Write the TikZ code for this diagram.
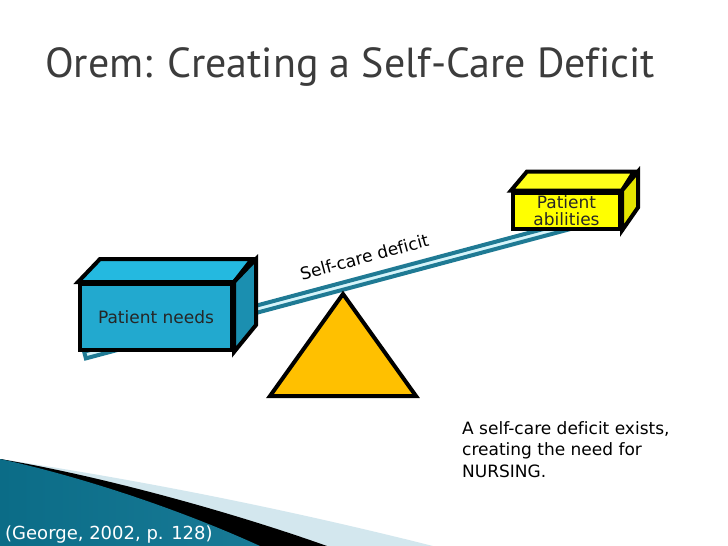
\documentclass[tikz,border=0pt]{standalone}
\usepackage{fontspec}
\setmainfont[Ligatures=NoCommon]{DejaVu Sans}
\newfontfamily\titlefont[Ligatures=NoCommon]{PT Sans}
\usetikzlibrary{calc}

\definecolor{beamdark}{HTML}{1F7A94}
\definecolor{beamlight}{HTML}{D6F4FA}
\definecolor{needsfront}{HTML}{22A9CF}
\definecolor{needstop}{HTML}{24B9E0}
\definecolor{needsside}{HTML}{1B8FB0}
\definecolor{abilfront}{HTML}{FFFF00}
\definecolor{abiltop}{HTML}{FFFF1A}
\definecolor{abilside}{HTML}{E3E300}
\definecolor{fulcrum}{HTML}{FFC000}
\definecolor{titlegray}{HTML}{3C3C3C}
\definecolor{swoosh}{HTML}{D3E7EE}
\definecolor{tealdark}{HTML}{0B6C87}
\definecolor{teallight}{HTML}{4DB5D4}

\begin{document}
\begin{tikzpicture}[x=1pt, y=-1pt,
  boxline/.style={draw=black, line width=4pt, line join=miter},
  front/.style={boxline, inner sep=0pt, text=black!85, font=\fontsize{17}{17}\selectfont},
  bodytext/.style={inner sep=0pt, font=\fontsize{17}{21.5}\selectfont}]

  \useasboundingbox[fill=white] (0,0) rectangle (728,546);

  % Title
  \node (title) [anchor=base west, inner sep=0pt, text=titlegray,
    font=\titlefont\fontsize{42}{42}\selectfont] at (45,77) {Orem: Creating a Self-Care Deficit};

  % Swoosh, bottom left
  \fill[swoosh] (0,459) .. controls (100,474) and (250,500) .. (433,546) -- (0,546) -- cycle;
  \fill[black] (0,459) .. controls (90,474) and (220,508) .. (327,546) -- (0,546) -- cycle;
  \fill[left color=tealdark, middle color=teallight, right color=tealdark!80!teallight]
    (0,459) .. controls (70,474) and (170,505) .. (260,546) -- (0,546) -- cycle;
  \node (cite) [anchor=base west, inner sep=0pt, text=white,
    font=\fontsize{18}{18}\selectfont] at (5,539) {(George, 2002, p. 128)};

  % Beam
  \coordinate (beamL) at (85,355);
  \coordinate (beamR) at (628,210);
  \draw[beamdark, line width=4pt, fill=beamlight]
    ($(beamL)!3.5pt!90:(beamR)$) -- ($(beamR)!3.5pt!-90:(beamL)$)
    -- ($(beamR)!3.5pt!90:(beamL)$) -- ($(beamL)!3.5pt!-90:(beamR)$) -- cycle;
  \node (deficit) [bodytext, rotate=15, anchor=base] at (366,263) {Self-care deficit};

  % Fulcrum
  \draw[boxline, fill=fulcrum] (343,294) -- (416,396) -- (270,396) -- cycle;

  % Patient needs box
  \node (needs) [front, fill=needsfront, minimum width=152pt, minimum height=66pt] at (156,317) {Patient needs};
  \draw[boxline, fill=needstop] (needs.north west) -- ++(22,-23) -- ++(152,0) -- (needs.north east) -- cycle;
  \draw[boxline, fill=needsside] (needs.north east) -- ++(22,-23) -- ++(0,66) -- (needs.south east) -- cycle;

  % Patient abilities box
  \node (abilities) [front, fill=abilfront, minimum width=107pt, minimum height=36pt, align=center] at (566.5,210.5) {Patient\\abilities};
  \draw[boxline, fill=abiltop] (abilities.north west) -- ++(16,-19) -- ++(107,0) -- (abilities.north east) -- cycle;
  \draw[boxline, fill=abilside] (abilities.north east) -- ++(16,-19) -- ++(0,36) -- (abilities.south east) -- cycle;

  % Note
  \node (note) [bodytext, anchor=north west, align=left] at (462,421)
    {A self-care deficit exists,\\creating the need for\\NURSING.};
\end{tikzpicture}
\end{document}
